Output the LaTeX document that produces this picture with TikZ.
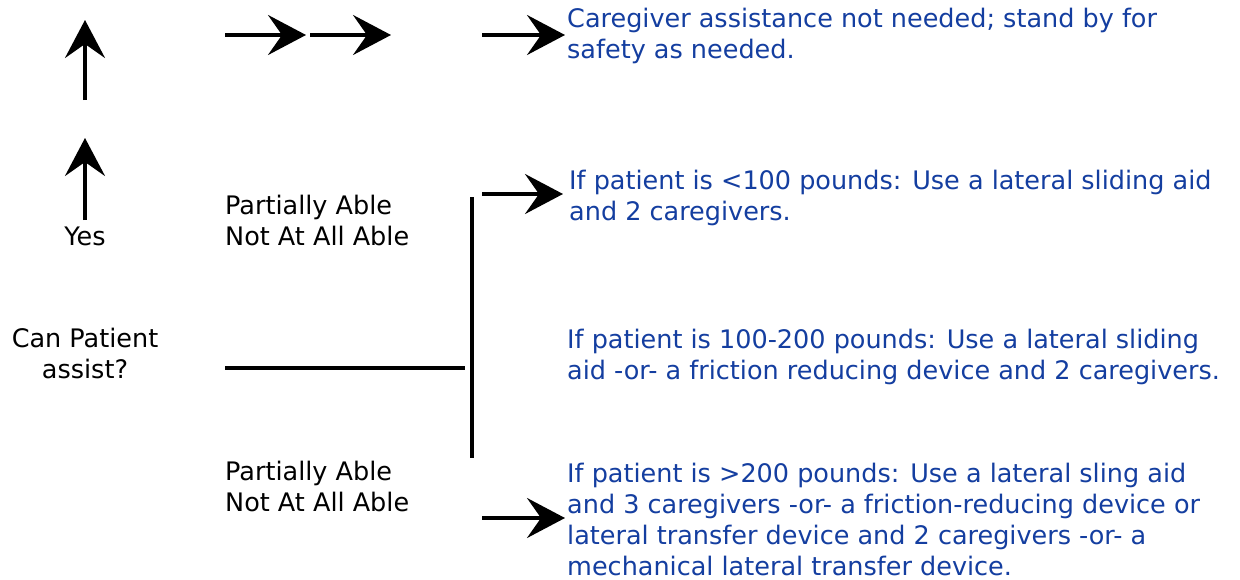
\documentclass[tikz,border=0pt]{standalone}
\usepackage{fontspec}
\setmainfont{DejaVu Sans}
\usetikzlibrary{arrows.meta}
\definecolor{noteblue}{RGB}{20,62,160}
\begin{document}
\begin{tikzpicture}[x=1pt,y=-1pt,
  arr/.style={line width=3.5pt,-{Stealth[length=38pt,width=40pt,inset=14pt]}},
  bar/.style={line width=4.5pt},
  % multi-line nodes are placed by the baseline of their last line
  lbl/.style={inner sep=0pt,anchor=base west,align=left,font=\fontsize{25.5}{31}\selectfont},
  clbl/.style={inner sep=0pt,anchor=base,align=center,font=\fontsize{25.5}{31}\selectfont},
  note/.style={lbl,text=noteblue}]
\useasboundingbox[fill=white] (0,0) rectangle (1240,579);

% question and answer labels
\node[clbl] (ask) at (85,378) {Can Patient\\assist?};
\node[clbl] (yes) at (85,245) {Yes};
\node[lbl] (partA) at (225,245) {Partially Able\\Not At All Able};
\node[lbl] (partB) at (225,511) {Partially Able\\Not At All Able};

% recommendations
\node[note] (r1) at (567,58) {Caregiver assistance not needed; stand by for\\safety as needed.};
\node[note] (r2) at (569,220) {If patient is <100 pounds: Use a lateral sliding aid\\and 2 caregivers.};
\node[note] (r3) at (567,379) {If patient is 100-200 pounds: Use a lateral sliding\\aid -or- a friction reducing device and 2 caregivers.};
\node[note] (r4) at (567,575) {If patient is >200 pounds: Use a lateral sling aid\\and 3 caregivers -or- a friction-reducing device or\\lateral transfer device and 2 caregivers -or- a\\mechanical lateral transfer device.};

% arrow end points
\coordinate (u1s) at (85,100);  \coordinate (u1e) at (85,20);
\coordinate (u2s) at (85,220);  \coordinate (u2e) at (85,138);
\coordinate (t1s) at (225,35);  \coordinate (t1e) at (306,35);
\coordinate (t2s) at (310,35);  \coordinate (t2e) at (391,35);
\coordinate (t3s) at (482,35);  \coordinate (t3e) at (565,35);
\coordinate (m1s) at (482,194); \coordinate (m1e) at (563,194);
\coordinate (b1s) at (482,518); \coordinate (b1e) at (565,518);

% branch lines
\coordinate (hs) at (225,368); \coordinate (he) at (465,368);
\coordinate (vs) at (472,197); \coordinate (ve) at (472,458);

\draw[arr] (u1s) -- (u1e);
\draw[arr] (u2s) -- (u2e);
\draw[arr] (t1s) -- (t1e);
\draw[arr] (t2s) -- (t2e);
\draw[arr] (t3s) -- (t3e);
\draw[arr] (m1s) -- (m1e);
\draw[arr] (b1s) -- (b1e);
\draw[bar,line width=4pt] (hs) -- (he);
\draw[bar] (vs) -- (ve);
\end{tikzpicture}
\end{document}
